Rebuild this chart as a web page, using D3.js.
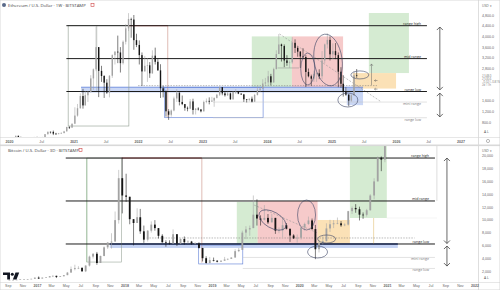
<!DOCTYPE html>
<html>
<head>
<meta charset="utf-8">
<script src="https://cdn.jsdelivr.net/npm/d3@7"></script>
<style>
body { margin: 0; background: #fff; }
svg { display: block; font-family: "Open Sans", Roboto, sans-serif; }
.tick text { fill: #666; }
</style>
</head>
<body>
<svg width="500" height="290"></svg>
<script>
// ***Data*** (semi-monthly candles)
// ETH / USD, from Jan 2020
var ethStart = [2020, 0];
var ethClose = [165,180,285,218,124,133,155,206,194,231,230,225,240,345,435,430,365,360,378,385,450,615,590,737,
  1040,1315,1770,1420,1800,1920,2430,2770,3600,2710,2520,2270,1900,2530,3300,3430,3400,3000,3800,4300,4650,4630,3860,3680,
  3300,2690,2900,2920,2620,3280,3050,2730,2060,1940,1200,1070,1230,1680,1900,1550,1470,1330,1300,1570,1250,1300,1270,1200,
  1550,1590,1560,1600,1700,1820,2100,1870,1800,1870,1650,1930,1930,1860,1830,1650,1630,1670,1560,1810,2000,2050,2240,2280,
  2510,2280,2780,3340,3700,3640,3100,3010,3030,3760,3570,3430,3250,3230,2670,2510,2420,2600,2620,2510,3100,3700,3870,3330,
  3450,3300,2680,2230,1920,1820,1600,1800,2550,2530];
var ethHigh = [170,185,288,287,253,145,175,227,215,245,250,240,245,348,440,440,480,395,390,420,470,620,635,740,
  1350,1475,1870,2040,1950,1950,2550,2800,4370,3600,2900,2550,2400,2550,3330,3450,4030,3600,3850,4460,4870,4700,4800,4100,
  3850,3400,3270,3180,3040,3480,3580,3150,2960,2150,1980,1280,1270,1750,2030,1900,1790,1450,1380,1660,1670,1320,1350,1280,
  1600,1680,1720,1740,1720,1850,2130,2100,1930,1930,1900,1930,2030,1960,1870,1850,1660,1680,1750,1850,2130,2100,2400,2450,
  2710,2600,2830,3480,4090,3730,3700,3300,3100,3970,3890,3630,3450,3560,3300,2800,2570,2720,2640,2770,3450,3730,4110,4000,
  3740,3750,3400,2850,2550,2100,1850,1850,2700,2780];
var ethLow = [127,155,180,215,90,105,130,150,180,190,215,220,220,235,330,370,310,320,335,360,380,445,540,580,
  720,1000,1300,1300,1450,1550,1900,2000,2700,1730,2300,1700,1850,1720,2450,2950,3000,2650,2950,3700,4200,3950,3500,3600,
  2950,2150,2700,2300,2450,2600,2950,2720,1700,1720,1000,880,1000,1200,1550,1420,1430,1220,1200,1280,1080,1080,1230,1160,
  1190,1500,1460,1570,1370,1680,1770,1800,1750,1770,1630,1630,1850,1840,1810,1550,1530,1570,1530,1550,1790,1930,2080,2150,
  2150,2170,2270,2760,3350,3060,2850,2900,2820,2980,3380,3240,2820,3150,2110,2470,2150,2300,2300,2400,2400,3000,3550,3100,
  3150,3150,2100,2080,1750,1780,1390,1560,1770,2450];

// BTC / USD, from Sep 2016
var btcStart = [2016, 8];
var btcClose = [610,610,640,700,710,745,780,965,
  820,970,1000,1190,1250,1070,1180,1350,1750,2300,2450,2480,1950,2850,4250,4700,3250,4350,5700,6450,6600,9950,16500,13800,
  13600,10100,9500,10400,8200,6900,8300,9250,8700,7500,6500,6400,6300,7750,6300,7000,6500,6600,6300,6300,5600,4000,3250,3700,
  3600,3450,3600,3800,3900,4100,5100,5300,8000,8500,8700,10800,10200,10000,10300,9600,10300,8300,8350,9150,8600,7550,7100,7200,
  8800,9350,9900,8550,5400,6400,6650,8650,9300,9450,9450,9140,9250,11350,11850,11650,10800,10780,11500,13800,16000,19700,19400,24000];
var btcHigh = [630,615,645,720,745,750,785,975,
  1150,975,1050,1210,1300,1260,1200,1360,1850,2700,2980,2750,2600,2900,4400,4750,4980,4400,5850,6500,7900,11300,17800,19700,
  17200,13000,9900,11800,11700,9100,8400,9750,9950,8700,7750,6800,6800,8500,7750,7100,7400,6800,6700,6500,6500,5600,4300,4200,
  4100,3700,3700,4200,3950,4150,5400,5600,8300,9000,9100,13800,13200,10700,12300,10900,10900,10300,8800,10400,9500,8600,7750,7700,
  8900,9550,10500,10200,9200,6900,7450,9450,10000,9950,10350,9800,9450,11400,12100,12450,12050,11150,11700,14000,16500,19900,19900,24300];
var btcLow = [600,590,605,630,690,700,740,770,
  750,880,950,1000,1050,900,1060,1150,1350,1850,2100,2300,1900,1830,2700,3950,2970,3600,4300,5450,5500,7800,9400,11000,
  12800,9300,6000,9500,7800,6400,6600,8000,8300,7080,6400,5800,6100,6300,5900,6200,6100,6300,6100,6200,5500,3500,3150,3200,
  3500,3350,3400,3600,3700,3900,4100,4950,5300,7000,7500,8700,9100,9100,9900,9350,9800,7800,7900,7300,8500,6550,7000,6450,
  6900,8300,9200,8450,3850,4900,6150,6800,8100,8700,9300,8900,9000,9100,10900,11100,9900,10150,10500,11400,13200,16000,17600,19000];

// tick labels
var ethPriceTicks = [800, 1200, 1600, 2800, 3200, 3600, 4000, 4400, 4800];
var ethLastLabels = ["2,548.0", "2,530.6", "\u22120.02 (\u22120.81%)", "2d 11h"];
var btcPriceTicks = [2000, 4000, 6000, 8000, 10000, 12000, 14000, 16000, 18000, 20000];
var monthNames = ["Jan","Feb","Mar","Apr","May","Jun","Jul","Aug","Sep","Oct","Nov","Dec"];

// annotations: [level, label]
var ethLevels = [[4400, "range high"], [3170, "mid range"], [1940, "range low"]];
var ethMinor = [[1545, "mini range"], [960, "range low"]];
var btcLevels = [[19650, "range high"], [12940, "mid range"], [6220, "range low"]];
var btcMinor = [[4120, "mini range"], [2400, "range low"]];

// zones: [date0, date1, price0, price1]
var ethGreen = [["2023-10-07", "2024-05-21", 2100, 4000], ["2025-07-31", "2026-03-15", 2630, 4875]];
var ethRed = [["2024-05-21", "2025-03-07", 2100, 4000]];
var ethOrange = [["2025-05-01", "2026-01-01", 2050, 2630]];
var ethBlueFill = [["2021-02-12", "2025-06-28", 1900, 2100], ["2025-03-28", "2025-06-28", 1430, 2070]];
var btcGreen = [["2019-04-15", "2019-07-11", 6050, 12800], ["2020-07-30", "2020-12-31", 10280, 22000]];
var btcRed = [["2019-07-11", "2020-03-17", 6220, 12940]];
var btcOrange = [["2020-03-17", "2020-07-30", 6220, 9970]];
var btcBlueFill = [["2017-11-01", "2021-02-15", 5600, 6220]];

// ellipses: [date, price, rx, ry, rotation]
var ethCircles = [["2024-12-12", 3118, 14, 26, -8], ["2024-08-19", 2781, 7, 16, 0], ["2025-04-03", 1622, 10, 7, 0], ["2025-06-10", 2560, 9, 4, 0]];
var btcCircles = [["2019-09-11", 9970, 15, 8, 30], ["2020-01-31", 10750, 9, 15, 0], ["2020-03-17", 4970, 10, 6, 0], ["2020-04-24", 7000, 9, 4, 0]];

var upColor = "#a3a3a3", downColor = "#151515";
var parse = d3.timeParse("%Y-%m-%d");

var svg = d3.select("svg");
var defs = svg.append("defs");

function periodDate(start, i) {
  return new Date(start[0], start[1] + Math.floor(i / 2), i % 2 ? 23 : 8);
}

//***Panels***
var eth = {
  top: 0, bottom: 137,
  x: d3.scaleTime().domain([new Date(2020, 0, 1), new Date(2027, 0, 1)]).range([9, 460.5]),
  y: d3.scaleLinear().domain([800, 4800]).range([122, 15])
};
var btc = {
  top: 146, bottom: 282,
  x: d3.scaleTime().domain([new Date(2017, 0, 1), new Date(2022, 0, 1)]).range([37, 474.5]),
  y: d3.scaleLinear().domain([2000, 20000]).range([271, 155.8])
};

function makeClip(id, p) {
  defs.append("clipPath").attr("id", id)
    .append("rect").attr("x", 0).attr("y", p.top).attr("width", 478).attr("height", p.bottom - p.top);
}
makeClip("clipEth", eth);
makeClip("clipBtc", btc);

var gEth = svg.append("g").attr("clip-path", "url(#clipEth)");
var gBtc = svg.append("g").attr("clip-path", "url(#clipBtc)");

function zones(g, p, list, fill, op) {
  g.selectAll(null).data(list).enter().append("rect")
    .attr("x", d => p.x(parse(d[0])))
    .attr("width", d => p.x(parse(d[1])) - p.x(parse(d[0])))
    .attr("y", d => p.y(d[3]))
    .attr("height", d => p.y(d[2]) - p.y(d[3]))
    .attr("fill", fill).attr("fill-opacity", op);
}

function seg(g, p, d0, v0, d1, v1, stroke, w, dash) {
  g.append("line")
    .attr("x1", p.x(parse(d0))).attr("y1", p.y(v0))
    .attr("x2", p.x(parse(d1))).attr("y2", p.y(v1))
    .attr("stroke", stroke).attr("stroke-width", w)
    .attr("stroke-dasharray", dash || null);
}

function box(g, p, d0, d1, v0, v1, stroke) {
  g.append("rect")
    .attr("x", p.x(parse(d0))).attr("width", p.x(parse(d1)) - p.x(parse(d0)))
    .attr("y", p.y(v1)).attr("height", p.y(v0) - p.y(v1))
    .attr("fill", "none").attr("stroke", stroke).attr("stroke-width", 0.6);
}

function levels(g, p, list, d0, d1, stroke, w, below) {
  list.forEach(function(d) {
    seg(g, p, d0, d[0], d1, d[0], stroke, w);
    g.append("text")
      .attr("x", p.x(parse(d1)) - 6).attr("y", p.y(d[0]) + (below ? 2.8 : -1))
      .attr("text-anchor", "end").attr("font-size", 3.6).attr("fill", below ? "#777" : "#222")
      .text(d[1]);
  });
}

function circles(g, p, list) {
  g.selectAll(null).data(list).enter().append("ellipse")
    .attr("transform", d => "translate(" + p.x(parse(d[0])) + "," + p.y(d[1]) + ") rotate(" + d[4] + ")")
    .attr("rx", d => d[2]).attr("ry", d => d[3])
    .attr("fill", "none").attr("stroke", "#3e4766").attr("stroke-width", 0.6);
}

function arrow(g, x, y0, y1) {
  // double headed vertical arrow
  g.append("line").attr("x1", x).attr("x2", x).attr("y1", y0).attr("y2", y1)
    .attr("stroke", "#444").attr("stroke-width", 0.8);
  [[y0, 1], [y1, -1]].forEach(function(a) {
    g.append("path")
      .attr("d", "M" + (x - 3) + "," + (a[0] + 3 * a[1]) + "L" + x + "," + a[0] + "L" + (x + 3) + "," + (a[0] + 3 * a[1]))
      .attr("fill", "none").attr("stroke", "#444").attr("stroke-width", 0.8);
  });
}

function drawCandles(g, p, start, closes, highs, lows, bw) {
  var data = closes.map(function(c, i) {
    return { date: periodDate(start, i), o: i ? closes[i - 1] : lows[0], c: c, h: highs[i], l: lows[i] };
  });
  g.selectAll(null).data(data).enter().append("line")
    .attr("x1", d => p.x(d.date)).attr("x2", d => p.x(d.date))
    .attr("y1", d => p.y(Math.max(d.h, d.o, d.c))).attr("y2", d => p.y(Math.min(d.l, d.o, d.c)))
    .attr("stroke", d => d.c >= d.o ? upColor : downColor).attr("stroke-width", 0.55);
  g.selectAll(null).data(data).enter().append("rect")
    .attr("x", d => p.x(d.date) - bw / 2).attr("width", bw)
    .attr("y", d => p.y(Math.max(d.o, d.c)))
    .attr("height", d => Math.max(0.6, Math.abs(p.y(d.o) - p.y(d.c))))
    .attr("fill", d => d.c >= d.o ? upColor : downColor);
}

//***ETH annotations***
zones(gEth, eth, ethGreen, "#b9ddb4", 0.6);
zones(gEth, eth, ethRed, "#ee9f9f", 0.55);
zones(gEth, eth, ethOrange, "#f8c97a", 0.55);
zones(gEth, eth, ethBlueFill, "#9fb6ec", 0.55);
seg(gEth, eth, "2021-02-12", 2100, "2025-06-28", 2100, "#5d7fd8", 0.8);

box(gEth, eth, "2020-12-01", "2021-11-10", 650, 4400, "#8f9c8f");
seg(gEth, eth, "2021-05-12", 4400, "2021-05-12", 1940, "#9aa59a", 0.5);
seg(gEth, eth, "2021-11-10", 4400, "2022-06-18", 4400, "#c0504d", 1);
seg(gEth, eth, "2022-06-18", 4400, "2022-06-18", 960, "#c07a6d", 0.5);
box(gEth, eth, "2022-06-01", "2023-12-10", 960, 2100, "#5b7bd5");

seg(gEth, eth, "2022-01-01", 2160, "2025-09-15", 2160, "#777", 0.5, "1.5,1.2");
seg(gEth, eth, "2024-03-12", 4090, "2025-10-10", 1550, "#999", 0.6, "2,1.5");
seg(gEth, eth, "2024-03-01", 2820, "2024-07-01", 2820, "#888", 0.5);
levels(gEth, eth, ethMinor, "2023-03-01", "2026-06-25", "#c4c4c4", 0.5, true);
levels(gEth, eth, ethLevels, "2020-11-21", "2026-06-25", "#1d1d1d", 1, false);

// small arrows around the consolidation
seg(gEth, eth, "2025-08-15", 2180, "2025-08-15", 2970, "#666", 0.5);
gEth.append("path")
  .attr("d", "M" + (eth.x(parse("2025-08-15")) - 1.5) + "," + (eth.y(2970) + 2) + "L" + eth.x(parse("2025-08-15")) + "," + eth.y(2970) + "L" + (eth.x(parse("2025-08-15")) + 1.5) + "," + (eth.y(2970) + 2))
  .attr("fill", "none").attr("stroke", "#666").attr("stroke-width", 0.5);
["2350", "2030"].forEach(function(v) {
  var xa = eth.x(parse("2025-09-01")), ya = eth.y(+v);
  gEth.append("path").attr("d", "M" + (xa + 3) + "," + ya + "H" + xa + "M" + (xa + 1.2) + "," + (ya - 1) + "L" + xa + "," + ya + "L" + (xa + 1.2) + "," + (ya + 1))
    .attr("fill", "none").attr("stroke", "#555").attr("stroke-width", 0.5);
});

drawCandles(gEth, eth, ethStart, ethClose, ethHigh, ethLow, 1.4);
circles(gEth, eth, ethCircles);

var axEth = eth.x(parse("2026-09-06"));
arrow(gEth, axEth, eth.y(4350), eth.y(2000));
arrow(gEth, axEth, eth.y(1880), eth.y(990));

//***BTC annotations***
zones(gBtc, btc, btcGreen, "#b9ddb4", 0.6);
zones(gBtc, btc, btcRed, "#ee9f9f", 0.55);
zones(gBtc, btc, btcOrange, "#f8c97a", 0.55);
zones(gBtc, btc, btcBlueFill, "#9fb6ec", 0.6);
seg(gBtc, btc, "2017-11-01", 6220, "2021-02-15", 6220, "#2e4a9e", 1.4);

box(gBtc, btc, "2017-07-28", "2017-12-20", 3400, 19650, "#9aa69a");
seg(gBtc, btc, "2017-07-28", 19650, "2017-07-28", 3400, "#8cc08c", 0.6);
seg(gBtc, btc, "2017-12-20", 19650, "2018-11-20", 19650, "#c0504d", 1);
seg(gBtc, btc, "2018-11-20", 19650, "2018-11-20", 3300, "#c07a6d", 0.5);
box(gBtc, btc, "2018-11-07", "2019-05-10", 3100, 6050, "#5b7bd5");
seg(gBtc, btc, "2020-11-06", 6220, "2020-11-06", 10280, "#e2c27a", 0.6);
seg(gBtc, btc, "2021-07-28", 22000, "2021-07-28", 12940, "#bbb", 0.5);
seg(gBtc, btc, "2020-12-31", 10280, "2021-07-28", 10280, "#e3e3e3", 0.4);

seg(gBtc, btc, "2018-04-04", 7160, "2021-04-26", 7160, "#777", 0.5, "1.5,1.2");
seg(gBtc, btc, "2019-06-26", 12310, "2020-03-17", 7940, "#999", 0.6, "2,1.5");
levels(gBtc, btc, btcMinor, "2019-05-10", "2021-07-20", "#c4c4c4", 0.5, true);
levels(gBtc, btc, btcLevels, "2017-05-01", "2021-07-20", "#1d1d1d", 1, false);

drawCandles(gBtc, btc, btcStart, btcClose, btcHigh, btcLow, 1.8);
circles(gBtc, btc, btcCircles);

var axBtc = btc.x(parse("2021-09-08"));
arrow(gBtc, axBtc, btc.y(19650), btc.y(6300));
arrow(gBtc, axBtc, btc.y(5900), btc.y(2770));

//***Axes and frame***
svg.append("line").attr("x1", 478.5).attr("x2", 478.5).attr("y1", 0).attr("y2", 290).attr("stroke", "#d6d6d6").attr("stroke-width", 0.8);
svg.append("line").attr("x1", 0).attr("x2", 500).attr("y1", 137.5).attr("y2", 137.5).attr("stroke", "#d6d6d6").attr("stroke-width", 0.6);
svg.append("rect").attr("x", 0).attr("y", 144.5).attr("width", 500).attr("height", 1.6).attr("fill", "#d9d9d9");
svg.append("line").attr("x1", 0).attr("x2", 500).attr("y1", 282.5).attr("y2", 282.5).attr("stroke", "#d6d6d6").attr("stroke-width", 0.6);
svg.append("rect").attr("x", 0).attr("y", 0).attr("width", 500).attr("height", 290).attr("fill", "none").attr("stroke", "#d0d0d0").attr("stroke-width", 0.8);

function priceAxis(p, ticks, fmt) {
  var g = svg.append("g").attr("transform", "translate(479,0)")
    .call(d3.axisRight(p.y).tickValues(ticks).tickFormat(fmt).tickSize(0).tickPadding(3));
  g.select(".domain").remove();
  g.selectAll("text").attr("font-size", 3.6).attr("fill", "#666");
  return g;
}
priceAxis(eth, ethPriceTicks, d3.format(",.1f"));
priceAxis(btc, btcPriceTicks, d3.format(","));

ethLastLabels.forEach(function(t, i) {
  svg.append("text").attr("x", 482).attr("y", eth.y(2470) + i * 2.9)
    .attr("font-size", 2.8).attr("fill", "#777").text(t);
});

function timeAxis(p, ticks, y) {
  var g = svg.append("g").attr("transform", "translate(0," + y + ")")
    .call(d3.axisBottom(p.x).tickValues(ticks)
      .tickFormat(d => d.getMonth() === 0 ? d.getFullYear() : monthNames[d.getMonth()])
      .tickSize(0).tickPadding(2));
  g.select(".domain").remove();
  g.selectAll("text").attr("font-size", 3.6).attr("fill", "#666")
    .attr("font-weight", d => d.getMonth() === 0 ? "bold" : null);
}
var ethTimeTicks = [];
d3.range(2020, 2028).forEach(function(yr) {
  ethTimeTicks.push(new Date(yr, 0, 1));
  if (yr < 2027) ethTimeTicks.push(new Date(yr, 6, 1));
});
var btcTimeTicks = d3.range(0, 33).map(i => new Date(2016, 8 + i * 2, 1));
timeAxis(eth, ethTimeTicks, 138.5);
timeAxis(btc, btcTimeTicks, 282.5);

// headers
function header(y, label, iconX) {
  svg.append("text").attr("x", 8).attr("y", y + 1.5).attr("font-size", 4.3).attr("fill", "#444").text(label);
  svg.append("rect").attr("x", iconX).attr("y", y - 1.6).attr("width", 3).attr("height", 3)
    .attr("fill", "none").attr("stroke", "#d04646").attr("stroke-width", 0.6);
}
svg.append("circle").attr("cx", 4).attr("cy", 5).attr("r", 2).attr("fill", "#5a6a8a");
header(5, "Ethereum / U.S. Dollar \u00b7 1W \u00b7 BITSTAMP", 91);
header(150, "Bitcoin / U.S. Dollar \u00b7 3D \u00b7 BITSTAMP", 79);

[5, 150].forEach(function(y) {
  svg.append("text").attr("x", 482).attr("y", y + 1.5).attr("font-size", 3.4).attr("fill", "#666").text("USD \u25be");
});
[133, 278.5].forEach(function(y) {
  svg.append("text").attr("x", 484).attr("y", y).attr("font-size", 3.4).attr("fill", "#555").text("A   L");
});
svg.append("circle").attr("cx", 488).attr("cy", 141).attr("r", 1.6).attr("fill", "none").attr("stroke", "#777").attr("stroke-width", 0.5);

// TradingView logo
var logo = svg.append("g").attr("fill", "#131722");
logo.append("path").attr("d", "M3,272.5H10V279.5H7.2V275H3Z");
logo.append("circle").attr("cx", 12.3).attr("cy", 274.2).attr("r", 1.5);
logo.append("path").attr("d", "M15.5,272.5H19.2L16.5,279.5H12.9Z");
</script>
</body>
</html>
